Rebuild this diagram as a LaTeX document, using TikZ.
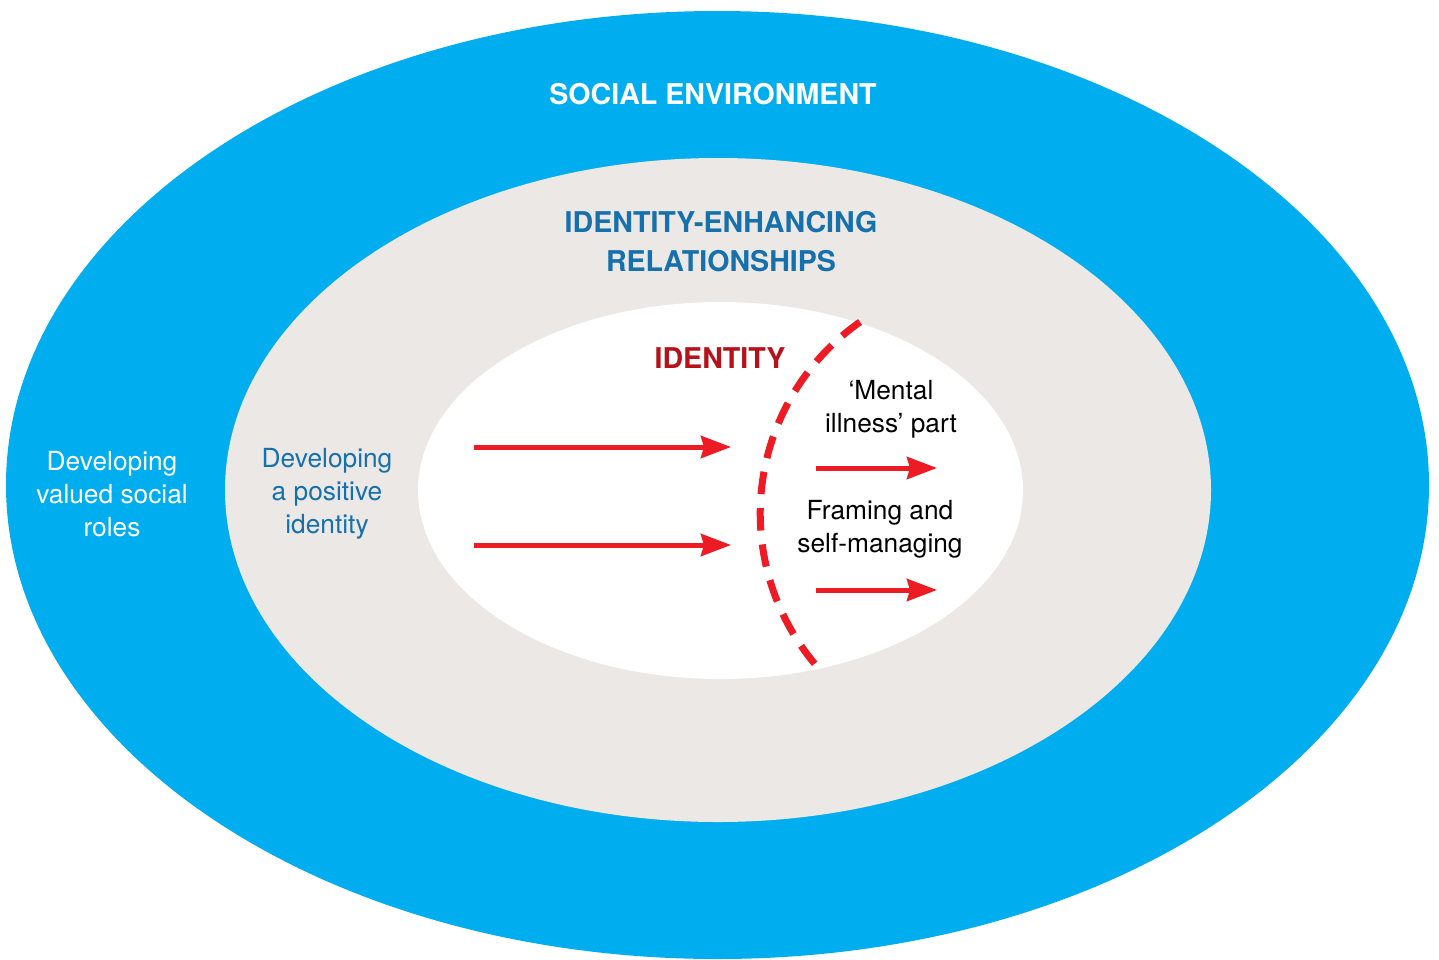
\documentclass[tikz,border=0pt]{standalone}
\usepackage{fontspec}
\setmainfont{TeX Gyre Heros}
\usetikzlibrary{arrows.meta}
\definecolor{skyblue}{HTML}{00AEEF}
\definecolor{paleg}{HTML}{EBE8E6}
\definecolor{deepblue}{HTML}{1670AC}
\definecolor{darkred}{HTML}{B5121B}
\definecolor{arrowred}{HTML}{ED1C24}
\tikzset{
  lbl/.style={align=center, font=\fontsize{26.3}{33}\selectfont, inner sep=0pt},
  ttl/.style={align=center, font=\fontsize{28.6}{39}\selectfont\bfseries, inner sep=0pt},
  redarrow/.style={draw=arrowred, line width=5pt, -{Stealth[length=30pt,width=22pt,inset=3pt]}},
  boundary/.style={draw=arrowred, line width=7pt, dash pattern=on 22.5pt off 14pt}
}
\begin{document}
\begin{tikzpicture}[x=1pt,y=-1pt]
\useasboundingbox (0,0) rectangle (1439,959);
\clip (0,0) rectangle (1439,959);
\fill[white] (0,0) rectangle (1439,959);
% rings
\fill[skyblue] (717.5,485) ellipse [x radius=711.5, y radius=474];
\fill[paleg] (718,490) ellipse [x radius=493, y radius=332];
\fill[white] (720.5,490.5) ellipse [x radius=302.5, y radius=188.5];
% titles
\node[ttl, text=white] (social) at (713,94) {SOCIAL ENVIRONMENT};
\node[ttl, text=deepblue] (rel) at (721,241.5) {IDENTITY-ENHANCING\\RELATIONSHIPS};
\node[ttl, text=darkred] (ident) at (720,358) {IDENTITY};
% side labels
\node[lbl, text=white] (roles) at (112,494) {Developing\\valued social\\roles};
\node[lbl, text=deepblue] (positive) at (327,494) {Developing\\a positive\\identity};
\node[lbl, text=black] (mental) at (891,409) {‘Mental\\illness’ part};
\node[lbl, text=black] (framing) at (880,529) {Framing and\\self-managing};
% arrows
\coordinate (a1s) at (474,447); \coordinate (a1e) at (731,447);
\coordinate (a2s) at (474,545); \coordinate (a2e) at (731,545);
\coordinate (a3s) at (816,468); \coordinate (a3e) at (937,468);
\coordinate (a4s) at (816,590); \coordinate (a4e) at (937,590);
\draw[redarrow] (a1s) -- (a1e);
\draw[redarrow] (a2s) -- (a2e);
\draw[redarrow] (a3s) -- (a3e);
\draw[redarrow] (a4s) -- (a4e);
% dashed boundary
\coordinate (arcstart) at (860,322);
\draw[boundary] (arcstart) arc[start angle=235, end angle=140, radius=234];
\end{tikzpicture}
\end{document}
